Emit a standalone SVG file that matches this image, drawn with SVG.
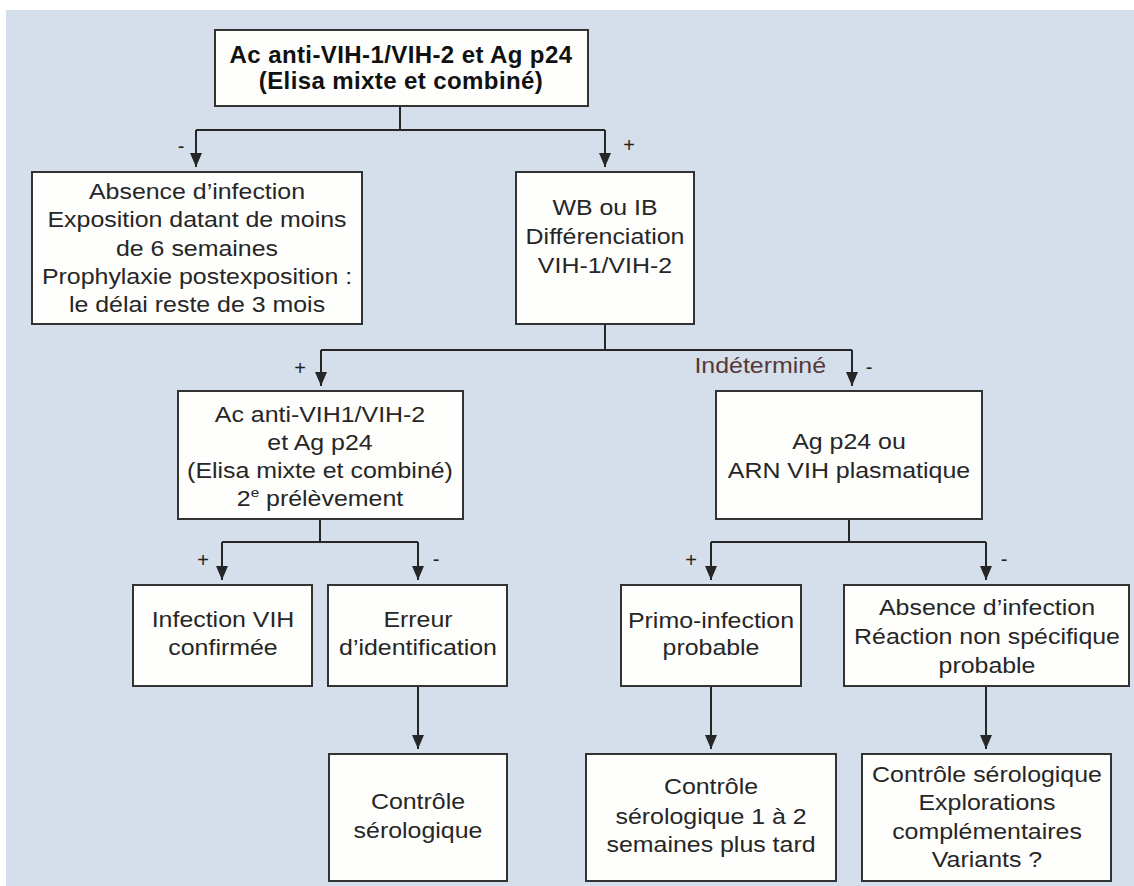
<svg xmlns="http://www.w3.org/2000/svg" width="1134" height="886" viewBox="0 0 1134 886">
<style>
.box{fill:#fefefc;stroke:#333;stroke-width:2}
.t{font-family:"Liberation Sans",Arial,sans-serif;font-size:21.3px;fill:#262626;text-anchor:middle}
.tb{font-family:"Liberation Sans",Arial,sans-serif;font-size:24px;font-weight:bold;letter-spacing:0.4px;fill:#111;text-anchor:middle}
.s{font-family:"Liberation Sans",Arial,sans-serif;font-size:20px;fill:#222;text-anchor:middle}
.ind{font-family:"Liberation Sans",Arial,sans-serif;font-size:21.3px;fill:#553838;text-anchor:end}
.ln{fill:none;stroke:#262626;stroke-width:2}
.ar{fill:none;stroke:#262626;stroke-width:2;marker-end:url(#ah)}
</style>
<defs>
<marker id="ah" viewBox="0 0 14 12" refX="14" refY="6" markerWidth="14" markerHeight="12" markerUnits="userSpaceOnUse" orient="auto">
<path d="M0,0 L14,6 L0,12 z" fill="#262626"/>
</marker>
</defs>
<rect x="0" y="0" width="1134" height="886" fill="#ffffff"/>
<rect x="6" y="10" width="1128" height="876" fill="#d5dfeb"/>

<g id="connectors">
<path class="ln" d="M400,106 V130 M196,130 H605"/>
<path class="ar" d="M196,130 V167"/>
<path class="ar" d="M605,130 V167"/>
<path class="ln" d="M605,324 V350 M321,350 H852"/>
<path class="ar" d="M321,350 V386"/>
<path class="ar" d="M852,350 V386"/>
<path class="ln" d="M320,519 V542 M222,542 H418"/>
<path class="ar" d="M222,542 V580"/>
<path class="ar" d="M418,542 V580"/>
<path class="ln" d="M849,519 V542 M711,542 H986"/>
<path class="ar" d="M711,542 V580"/>
<path class="ar" d="M986,542 V580"/>
<path class="ar" d="M418,686 V749"/>
<path class="ar" d="M711,686 V749"/>
<path class="ar" d="M986,686 V749"/>
<text class="s" x="181" y="153">-</text>
<text class="s" x="629" y="152">+</text>
<text class="s" x="300" y="375">+</text>
<g transform="translate(826,0) scale(1.17,1)"><text class="ind" x="0" y="373">Indéterminé</text></g>
<text class="s" x="869" y="374">-</text>
<text class="s" x="203" y="567">+</text>
<text class="s" x="436" y="566">-</text>
<text class="s" x="691" y="567">+</text>
<text class="s" x="1004" y="566">-</text>
</g>

<g id="n-top">
<rect class="box" x="215" y="30" width="373" height="76"/>
<text class="tb" x="401" y="63">Ac anti-VIH-1/VIH-2 et Ag p24</text>
<text class="tb" x="401" y="89">(Elisa mixte et combiné)</text>
</g>

<g id="n-absence">
<rect class="box" x="32" y="172" width="330" height="152"/>
<g transform="translate(197,0) scale(1.17,1)">
<text class="t" x="0" y="199">Absence d’infection</text>
<text class="t" x="0" y="227.5">Exposition datant de moins</text>
<text class="t" x="0" y="256">de 6 semaines</text>
<text class="t" x="0" y="284">Prophylaxie postexposition :</text>
<text class="t" x="0" y="312">le délai reste de 3 mois</text>
</g>
</g>

<g id="n-wb">
<rect class="box" x="516" y="172" width="178" height="152"/>
<g transform="translate(605,0) scale(1.17,1)">
<text class="t" x="0" y="215">WB ou IB</text>
<text class="t" x="0" y="244">Différenciation</text>
<text class="t" x="0" y="273">VIH-1/VIH-2</text>
</g>
</g>

<g id="n-ac2">
<rect class="box" x="178" y="391" width="285" height="128"/>
<g transform="translate(320,0) scale(1.17,1)">
<text class="t" x="0" y="422">Ac anti-VIH1/VIH-2</text>
<text class="t" x="0" y="450">et Ag p24</text>
<text class="t" x="0" y="478">(Elisa mixte et combiné)</text>
<text class="t" x="0" y="506">2<tspan font-size="13" dy="-9">e</tspan><tspan dy="9"> prélèvement</tspan></text>
</g>
</g>

<g id="n-agp24">
<rect class="box" x="716" y="391" width="266" height="128"/>
<g transform="translate(849,0) scale(1.17,1)">
<text class="t" x="0" y="449">Ag p24 ou</text>
<text class="t" x="0" y="478">ARN VIH plasmatique</text>
</g>
</g>

<g id="n-confirmee">
<rect class="box" x="133" y="585" width="179" height="101"/>
<g transform="translate(223,0) scale(1.17,1)">
<text class="t" x="0" y="627">Infection VIH</text>
<text class="t" x="0" y="655">confirmée</text>
</g>
</g>

<g id="n-erreur">
<rect class="box" x="328" y="585" width="179" height="101"/>
<g transform="translate(418,0) scale(1.17,1)">
<text class="t" x="0" y="627">Erreur</text>
<text class="t" x="0" y="655">d’identification</text>
</g>
</g>

<g id="n-primo">
<rect class="box" x="621" y="585" width="180" height="101"/>
<g transform="translate(711,0) scale(1.17,1)">
<text class="t" x="0" y="628">Primo-infection</text>
<text class="t" x="0" y="655">probable</text>
</g>
</g>

<g id="n-absence2">
<rect class="box" x="844" y="585" width="285" height="101"/>
<g transform="translate(987,0) scale(1.17,1)">
<text class="t" x="0" y="615">Absence d’infection</text>
<text class="t" x="0" y="644">Réaction non spécifique</text>
<text class="t" x="0" y="673">probable</text>
</g>
</g>

<g id="n-controle1">
<rect class="box" x="329" y="754" width="178" height="127"/>
<g transform="translate(418,0) scale(1.17,1)">
<text class="t" x="0" y="809">Contrôle</text>
<text class="t" x="0" y="838">sérologique</text>
</g>
</g>

<g id="n-controle2">
<rect class="box" x="586" y="754" width="250" height="127"/>
<g transform="translate(711,0) scale(1.17,1)">
<text class="t" x="0" y="794">Contrôle</text>
<text class="t" x="0" y="824">sérologique 1 à 2</text>
<text class="t" x="0" y="852">semaines plus tard</text>
</g>
</g>

<g id="n-controle3">
<rect class="box" x="862" y="754" width="249" height="127"/>
<g transform="translate(987,0) scale(1.17,1)">
<text class="t" x="0" y="782">Contrôle sérologique</text>
<text class="t" x="0" y="810">Explorations</text>
<text class="t" x="0" y="839">complémentaires</text>
<text class="t" x="0" y="867">Variants ?</text>
</g>
</g>
</svg>
